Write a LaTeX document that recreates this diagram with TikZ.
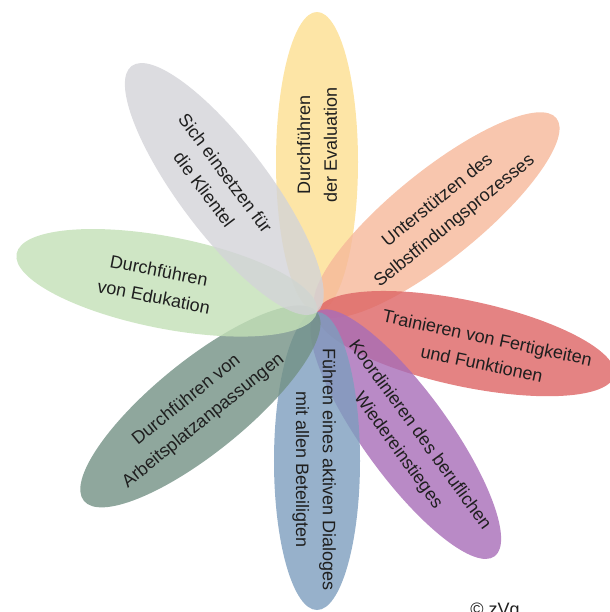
\documentclass[tikz,border=0pt]{standalone}
\usepackage{fontspec}
\setmainfont{Liberation Sans}
\usepackage{tikz}
\usetikzlibrary{shapes.geometric}

\definecolor{evalcol}{RGB}{253,223,144}
\definecolor{selbstcol}{RGB}{246,184,154}
\definecolor{traincol}{RGB}{221,100,100}
\definecolor{koordcol}{RGB}{168,109,184}
\definecolor{dialogcol}{RGB}{125,158,190}
\definecolor{arbeitcol}{RGB}{115,145,133}
\definecolor{educol}{RGB}{195,224,183}
\definecolor{klientcol}{RGB}{211,211,216}

\begin{document}
\begin{tikzpicture}[x=0.25mm, y=0.25mm, font=\fontsize{12.8}{19}\selectfont, petal/.style = {shape=ellipse, draw=none, inner sep=0pt, fill opacity=0.8}, lbl/.style = {align=center, text=black!88, inner sep=0pt}]
                \useasboundingbox (-317,-300) rectangle (292,312);
                % petals
                \node[petal, fill=evalcol, rotate=90, minimum width=75mm, minimum height=20.5mm] (pEval) at (90:150) {};
                \node[petal, fill=selbstcol, rotate=39, minimum width=77mm, minimum height=22mm] (pSelbst) at (39:154) {};
                \node[petal, fill=traincol, rotate=-12, minimum width=76mm, minimum height=21.5mm] (pTrain) at (-12:152) {};
                \node[petal, fill=koordcol, rotate=-54, minimum width=75.5mm, minimum height=21.5mm] (pKoord) at (-54:151) {};
                \node[petal, fill=dialogcol, rotate=-90, minimum width=74.5mm, minimum height=21.5mm] (pDialog) at (-90:149) {};
                \node[petal, fill=arbeitcol, rotate=219, minimum width=75mm, minimum height=23mm] (pArbeit) at (219:150) {};
                \node[petal, fill=educol, rotate=169, minimum width=76.5mm, minimum height=23mm] (pEdu) at (169:153) {};
                \node[petal, fill=klientcol, rotate=127, minimum width=77mm, minimum height=22.5mm] (pKlient) at (127:154) {};
                % labels
                \node[lbl, rotate=90] (tEval) at (90:167) {Durchführen\\der Evaluation};
                \node[lbl, rotate=39] (tSelbst) at (38:164) {Unterstützen des\\Selbstfindungsprozesses};
                \node[lbl, rotate=-12] (tTrain) at (-13:172) {Trainieren von Fertigkeiten\\und Funktionen};
                \node[lbl, rotate=-54] (tKoord) at (-55:160) {Koordinieren des beruflichen\\Wiedereinstieges};
                \node[lbl, rotate=-90] (tDialog) at (-91:158) {Führen eines aktiven Dialoges\\mit allen Beteiligten};
                \node[lbl, rotate=39] (tArbeit) at (219:157) {Durchführen von\\Arbeitsplatzanpassungen};
                \node[lbl, rotate=-11] (tEdu) at (170:163) {Durchführen\\von Edukation};
                \node[lbl, rotate=-53] (tKlient) at (128:166) {Sich einsetzen für\\die Klientel};
                \node[lbl, anchor=base] (copy) at (178,-303) {© zVg};
            \end{tikzpicture}
\end{document}
